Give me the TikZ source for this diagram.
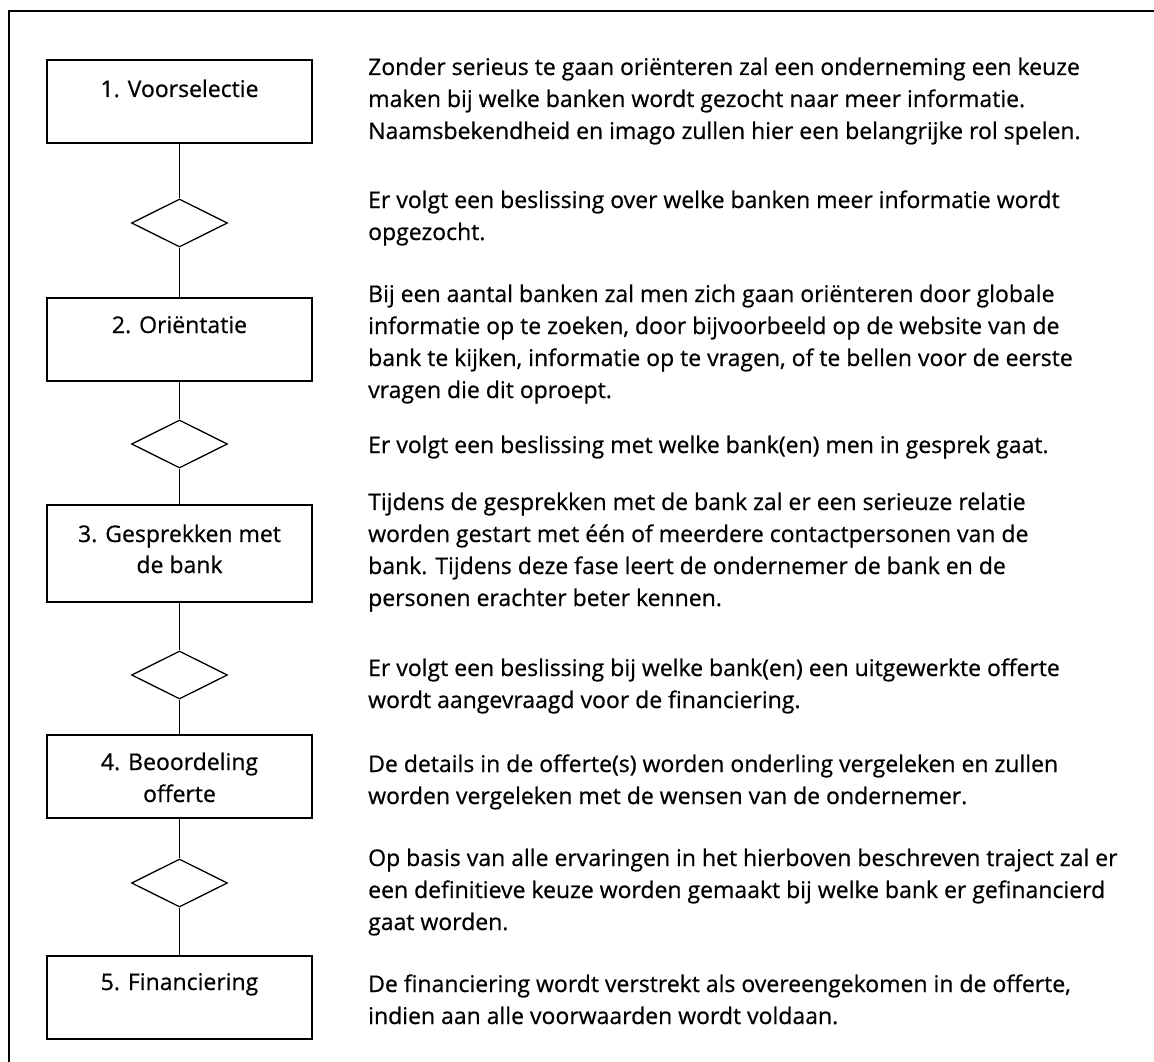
\documentclass[tikz,border=0pt]{standalone}
\usepackage{fontspec}
\setmainfont{Open Sans}
\newfontfamily\descfont{Open Sans}[FakeBold=0.6]
\usetikzlibrary{shapes.geometric}
\tikzset{
  stepbox/.style={draw, line width=1.6pt, rectangle, minimum width=265pt, inner sep=0pt},
  decision/.style={draw, line width=1.3pt, diamond, minimum width=96pt, minimum height=48pt, inner sep=0pt},
  boxtext/.style={anchor=base, inner sep=0pt, font=\descfont\fontsize{23pt}{31pt}\selectfont},
  desc/.style={anchor=base west, inner sep=0pt, font=\descfont\fontsize{23pt}{31pt}\selectfont},
  conn/.style={line width=1.3pt}
}
\begin{document}
\begin{tikzpicture}[x=1pt,y=-1pt]
\useasboundingbox (0,0) rectangle (1154,1062);
\clip (0,0) rectangle (1154,1062);
% outer frame (only top and left edges inside the page)
\draw[line width=1.6pt] (9,1080) -- (9,11) -- (1180,11);

% step boxes
\node[stepbox, minimum height=83pt] (b1) at (179.5,101.5) {};
\node[stepbox, minimum height=83pt] (b2) at (179.5,339.5) {};
\node[stepbox, minimum height=97pt] (b3) at (179.5,553.5) {};
\node[stepbox, minimum height=83pt] (b4) at (179.5,776.5) {};
\node[stepbox, minimum height=83pt] (b5) at (179.5,997.5) {};

% decisions
\node[decision] (d1) at (179.5,223) {};
\node[decision] (d2) at (179.5,444) {};
\node[decision] (d3) at (179.5,675) {};
\node[decision] (d4) at (179.5,883) {};

% connectors
\draw[conn] (b1.south) -- (d1.north);
\draw[conn] (d1.south) -- (b2.north);
\draw[conn] (b2.south) -- (d2.north);
\draw[conn] (d2.south) -- (b3.north);
\draw[conn] (b3.south) -- (d3.north);
\draw[conn] (d3.south) -- (b4.north);
\draw[conn] (b4.south) -- (d4.north);
\draw[conn] (d4.south) -- (b5.north);

% box texts
\node[boxtext] (t1) at (179.5,97) {1. Voorselectie};
\node[boxtext] (t2) at (179.5,333) {2. Oriëntatie};
\node[boxtext] (t3a) at (179.5,542) {3. Gesprekken met};
\node[boxtext] (t3b) at (179.5,573) {de bank};
\node[boxtext] (t4a) at (179.5,770) {4. Beoordeling};
\node[boxtext] (t4b) at (179.5,802) {offerte};
\node[boxtext] (t5) at (179.5,990) {5. Financiering};

% descriptions
\foreach \yy/\txt [count=\i] in {
  75/{Zonder serieus te gaan oriënteren zal een onderneming een keuze},
  107/{maken bij welke banken wordt gezocht naar meer informatie.},
  139/{Naamsbekendheid en imago zullen hier een belangrijke rol spelen.},
  208/{Er volgt een beslissing over welke banken meer informatie wordt},
  240/{opgezocht.},
  302/{Bij een aantal banken zal men zich gaan oriënteren door globale},
  334/{informatie op te zoeken, door bijvoorbeeld op de website van de},
  366/{bank te kijken, informatie op te vragen, of te bellen voor de eerste},
  398/{vragen die dit oproept.},
  453/{Er volgt een beslissing met welke bank(en) men in gesprek gaat.},
  510/{Tijdens de gesprekken met de bank zal er een serieuze relatie},
  542/{worden gestart met één of meerdere contactpersonen van de},
  574/{bank. Tijdens deze fase leert de ondernemer de bank en de},
  606/{personen erachter beter kennen.},
  676/{Er volgt een beslissing bij welke bank(en) een uitgewerkte offerte},
  708/{wordt aangevraagd voor de financiering.},
  772/{De details in de offerte(s) worden onderling vergeleken en zullen},
  804/{worden vergeleken met de wensen van de ondernemer.},
  866/{Op basis van alle ervaringen in het hierboven beschreven traject zal er},
  898/{een definitieve keuze worden gemaakt bij welke bank er gefinancierd},
  930/{gaat worden.},
  992/{De financiering wordt verstrekt als overeengekomen in de offerte,},
  1024/{indien aan alle voorwaarden wordt voldaan.}
}{
  \node[desc] (l\i) at (368,\yy) {\txt};
}
\end{tikzpicture}
\end{document}
